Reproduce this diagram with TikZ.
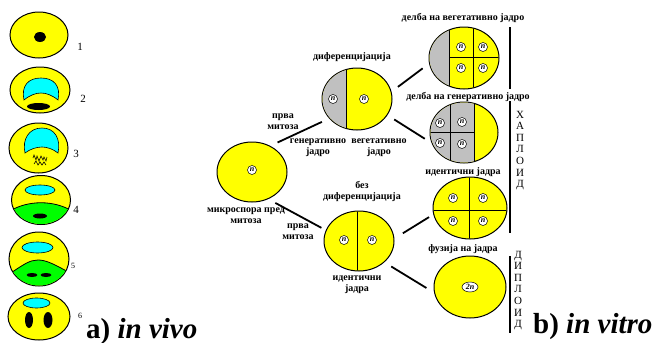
\documentclass[tikz,border=0pt]{standalone}
\usepackage{fontspec}
\setmainfont{Liberation Serif}
\usetikzlibrary{shapes.geometric}
\definecolor{cytoplasm}{RGB}{255,255,0}
\definecolor{generative}{RGB}{192,192,192}
\definecolor{vacuole}{RGB}{0,255,255}
\definecolor{wall}{RGB}{0,255,0}

\begin{document}
\begin{tikzpicture}[x=1pt,y=-1pt,
cell/.style={ellipse,draw,fill=cytoplasm,line width=1pt,inner sep=0pt},
rim/.style={draw,fill=cytoplasm,line width=1pt},
nuc/.style={circle,draw,fill=white,inner sep=0pt,minimum size=9pt,line width=0.5pt,
  font=\fontsize{8}{8}\selectfont\bfseries\itshape},
lbl/.style={align=center,inner sep=0pt,font=\fontsize{10}{11}\selectfont\bfseries},
num/.style={inner sep=0pt,font=\fontsize{11}{11}\selectfont},
ploidy/.style={align=center,inner sep=0pt,font=\fontsize{11}{11.6}\selectfont},
title/.style={anchor=base west,inner sep=0pt,font=\fontsize{29}{29}\selectfont\bfseries},
link/.style={line width=1.8pt,shorten <=8pt,shorten >=8pt},
bar/.style={line width=1.8pt},
split/.style={line width=0.8pt},
]
\useasboundingbox (0,0) rectangle (654,343);

% in vivo, stages 1-6
\path[rim]
  (39,35) ellipse [x radius=29pt,y radius=23pt]
  (40,90) ellipse [x radius=30pt,y radius=23pt]
  (38.5,148) ellipse [x radius=29.5pt,y radius=25pt]
  (41,200) ellipse [x radius=29.5pt,y radius=24.5pt]
  (39,259) ellipse [x radius=30pt,y radius=27pt]
  (39,316.5) ellipse [x radius=31pt,y radius=23.5pt];

% generative cell cut off by the wall
\begin{scope}
\clip (41,200) ellipse [x radius=29pt,y radius=24pt];
\fill[wall] (10,211) .. controls (28,200) and (54,200) .. (72,211) |- (10,230) -- cycle;
\draw[split] (10,211) .. controls (28,200) and (54,200) .. (72,211);
\end{scope}
\begin{scope}
\clip (39,259) ellipse [x radius=29.5pt,y radius=26.5pt];
\fill[wall] (8,275) .. controls (24,264) and (30,260) .. (38,260) .. controls (46,260) and (54,264) .. (70,273) |- (8,290) -- cycle;
\draw[split] (8,275) .. controls (24,264) and (30,260) .. (38,260) .. controls (46,260) and (54,264) .. (70,273);
\end{scope}

% vacuoles
\path[fill=vacuole,draw,line width=0.6pt]
  (24,100) .. controls (21,86) and (28,78) .. (41,78) .. controls (54,78) and (61,86) .. (58,100)
    .. controls (52,95) and (46,93) .. (41,93) .. controls (36,93) and (30,95) .. (24,100) -- cycle
  (25,153) .. controls (22,139) and (29,128) .. (42,128) .. controls (55,128) and (61,139) .. (58,153)
    .. controls (53,149) and (47,147) .. (42,147) .. controls (37,147) and (30,149) .. (25,153) -- cycle
  (40,190) ellipse [x radius=15pt,y radius=5pt]
  (37.5,247.5) ellipse [x radius=15.5pt,y radius=5.5pt]
  (36.5,303) ellipse [x radius=13.5pt,y radius=5pt];

% nuclei
\path[fill=black]
  (40,37) ellipse [x radius=6pt,y radius=5pt]
  (38.5,106.5) ellipse [x radius=11.5pt,y radius=3.5pt]
  (40,216) ellipse [x radius=7pt,y radius=2.5pt]
  (32,275) ellipse [x radius=5.5pt,y radius=2pt]
  (46,275) ellipse [x radius=5.5pt,y radius=2pt]
  (29,320) ellipse [x radius=4pt,y radius=8pt]
  (48,320) ellipse [x radius=4.5pt,y radius=8pt];

% chromosomes in prophase
\draw[line width=0.6pt]
  (33,158) -- (34,155) -- (36,160) -- (37,156) -- (39,161) -- (41,156) -- (43,160) -- (44,157) -- (46,161) -- (47,157)
  (34,164) -- (36,161) -- (38,165) -- (40,162) -- (42,165) -- (44,162) -- (46,165);

\node[num] (st1) at (80,47) {1};
\node[num] (st2) at (83,99) {2};
\node[num] (st3) at (76,154) {3};
\node[num] (st4) at (76,210) {4};
\node[num,font=\fontsize{8}{8}\selectfont] (st5) at (73,266) {5};
\node[num,font=\fontsize{8}{8}\selectfont] (st6) at (80,316) {6};

% in vitro
\node[cell,minimum width=70pt,minimum height=60pt] (micro) at (252,172) {};
\node[cell,minimum width=70pt,minimum height=62pt] (diff) at (357,99) {};
\node[cell,minimum width=70pt,minimum height=62pt] (veg) at (464,58) {};
\node[cell,minimum width=68pt,minimum height=61pt] (gen) at (464,132.5) {};
\node[cell,minimum width=70pt,minimum height=60pt] (nodiff) at (359,241) {};
\node[cell,minimum width=74pt,minimum height=62pt] (same) at (470,208) {};
\node[cell,minimum width=72pt,minimum height=62pt] (fused) at (470,287) {};

\begin{scope}
\clip (357,99) ellipse [x radius=34.5pt,y radius=30.5pt];
\fill[generative] (320,60) rectangle (346,140);
\draw[split] (346,60) -- (346,140);
\end{scope}
\begin{scope}
\clip (464,58) ellipse [x radius=34.5pt,y radius=30.5pt];
\fill[generative] (425,20) rectangle (449,95);
\draw[split] (449,20) -- (449,95) (473,20) -- (473,95) (449,57) -- (500,57);
\end{scope}
\begin{scope}
\clip (464,132.5) ellipse [x radius=33.5pt,y radius=30pt];
\fill[generative] (425,95) rectangle (474,170);
\draw[split] (474,95) -- (474,170) (450,95) -- (450,170) (425,132) -- (474,132);
\end{scope}
\begin{scope}
\clip (359,241) ellipse [x radius=34.5pt,y radius=29.5pt];
\draw[split] (357,205) -- (357,275);
\end{scope}
\begin{scope}
\clip (470,208) ellipse [x radius=36.5pt,y radius=30.5pt];
\draw[split] (469,170) -- (469,245) (430,210) -- (510,210);
\end{scope}

\path[every node/.style=nuc]
  (252,170) node (m1) {n}
  (333,99) node (d1) {n} (364,99) node (d2) {n}
  (461,47) node (v1) {n} (483,47) node (v2) {n} (461,68) node (v3) {n} (483,68) node (v4) {n}
  (440,123) node (g1) {n} (462,122) node (g2) {n} (440,143) node (g3) {n} (462,144) node (g4) {n}
  (344,240) node (e1) {n} (372,240) node (e2) {n}
  (453,198) node (i1) {n} (483,198) node (i2) {n} (453,221) node (i3) {n} (483,221) node (i4) {n};
\node[nuc,ellipse,minimum width=16pt,minimum height=10pt] (f1) at (470,287) {2n};

\draw[link] (micro.55) -- (diff.215);
\draw[link] (diff.12) -- (veg.189);
\draw[link] (diff.332) -- (gen.198);
\draw[link,shorten >=5pt] (micro.301) -- (nodiff.162);
\draw[link,shorten <=10pt,shorten >=5pt] (nodiff.4) -- (same.190);
\draw[link,shorten >=9pt] (nodiff.320) -- (fused.189);

\node[lbl] (l1) at (352,57) {диференцијација};
\node[lbl] (l2) at (283,122) {прва\\митоза};
\node[lbl] (l3) at (318,147.5) {генеративно\\јадро};
\node[lbl] (l4) at (379,147.5) {вегетативно\\јадро};
\node[lbl] (l5) at (463,18) {делба на вегетативно јадро};
\node[lbl] (l6) at (468,97) {делба на генеративно јадро};
\node[lbl] (l7) at (463,172) {идентични јадра};
\node[lbl] (l8) at (463,249) {фузија на јадра};
\node[lbl] (l9) at (246,216) {микроспора пред\\митоза};
\node[lbl] (l10) at (362,191.5) {без\\диференцијација};
\node[lbl] (l11) at (298,231.5) {прва\\митоза};
\node[lbl] (l12) at (357,284.5) {идентични\\јадра};

% haploid / diploid brackets
\draw[bar] (510,27) -- (510,89) (510,101) -- (510,233) (510,256) -- (510,333);
\node[ploidy] (hap) at (520,150.5) {Х\\А\\П\\Л\\О\\И\\Д};
\node[ploidy] (dip) at (518,290.5) {Д\\И\\П\\Л\\О\\И\\Д};

\node[title] (vivo) at (86,338) {a) \textit{in vivo}};
\node[title] (vitro) at (533,333) {b) \textit{in vitro}};
\end{tikzpicture}
\end{document}
